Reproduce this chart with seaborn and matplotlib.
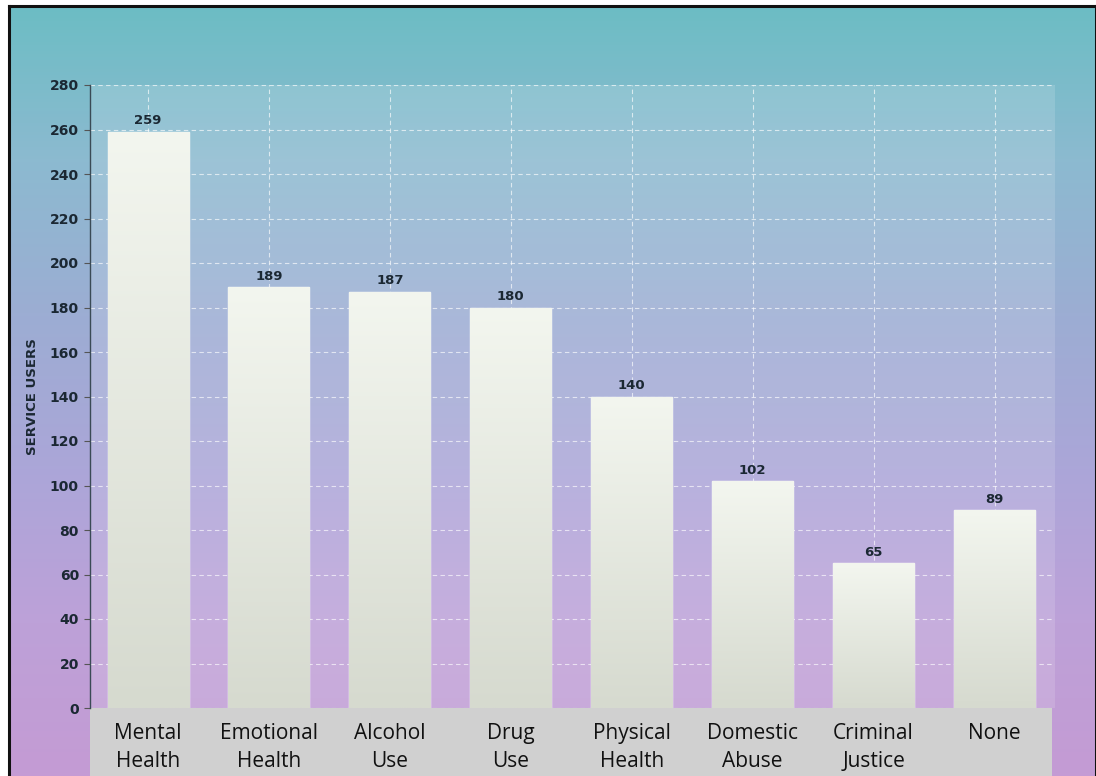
import numpy as np
import pandas as pd
import matplotlib
matplotlib.use("Agg")
import matplotlib.pyplot as plt
import seaborn as sns
from matplotlib.colors import LinearSegmentedColormap
from matplotlib.patches import Rectangle

categories = ["Mental\nHealth", "Emotional\nHealth", "Alcohol\nUse", "Drug\nUse",
              "Physical\nHealth", "Domestic\nAbuse", "Criminal\nJustice", "None"]
users = [259, 189, 187, 180, 140, 102, 65, 89]
y_ticks = list(range(0, 281, 20))

df = pd.DataFrame({"category": categories, "users": users})

sns.set_theme(style="white")
plt.rcParams["font.family"] = ["DejaVu Sans"]

W, H = 1096, 776
fig = plt.figure(figsize=(W / 100, H / 100), dpi=100, facecolor="white")

# outer panel with vertical gradient (teal -> lavender -> pink)
bg_cmap = LinearSegmentedColormap.from_list(
    "bg", ["#6cbdc4", "#8cbad0", "#9cadd3", "#aba6d8", "#bda1d8", "#c49bd4"])
bg = fig.add_axes([9 / W, 0, 1 - 9 / W, 770 / H], zorder=0)
bg.imshow(np.linspace(0, 1, 256).reshape(-1, 1), cmap=bg_cmap, aspect="auto",
          extent=[0, 1, 0, 1], origin="upper")
bg.set_xticks([])
bg.set_yticks([])
for side, sp in bg.spines.items():
    sp.set_color("#111111")
    sp.set_linewidth(2.2)
bg.spines["bottom"].set_visible(False)

# grey band behind the category labels
fig.patches.append(Rectangle((90 / W, 0), (1052 - 90) / W, (776 - 708) / H,
                             transform=fig.transFigure, facecolor="#d0d0d0",
                             edgecolor="none", zorder=1))

ax = fig.add_axes([90 / W, 1 - 708 / H, (1055 - 90) / W, (708 - 85) / H], zorder=2)
ax.patch.set_facecolor((1, 1, 1, 0.14))

sns.barplot(data=df, x="category", y="users", ax=ax, color="#eef1ea",
            width=0.67, saturation=1, zorder=3)

# vertical gradient inside each bar
bar_cmap = LinearSegmentedColormap.from_list("bar", ["#d6dacf", "#f3f6ef"])
grad = np.linspace(0, 1, 256).reshape(-1, 1)
for p in ax.patches:
    x0, w, h = p.get_x(), p.get_width(), p.get_height()
    im = ax.imshow(grad, cmap=bar_cmap, aspect="auto", origin="lower",
                   extent=[x0, x0 + w, 0, h], zorder=3.5)
    im.set_clip_path(p)

for i, v in enumerate(users):
    ax.text(i, v + 2, str(v), ha="center", va="bottom", fontsize=9.5,
            fontweight="bold", color="#1b2833", zorder=5)

ax.set_xlim(-0.48, 7.5)
ax.set_ylim(0, 280)
ax.set_yticks(y_ticks)
ax.set_yticklabels([str(t) for t in y_ticks], fontsize=10, fontweight="bold",
                   color="#1b2833")
ax.set_xticks(range(len(categories)))
ax.set_xticklabels(categories, family=["Open Sans", "DejaVu Sans"], fontsize=15,
                   color="#111111", linespacing=1.4)
ax.tick_params(axis="x", length=0, pad=11)
ax.tick_params(axis="y", length=4, width=0.8, color="#555555", pad=4, left=True)

ax.grid(True, axis="both", color="white", linestyle=(0, (4, 3)), linewidth=0.8,
        alpha=0.65, zorder=1)
ax.set_axisbelow(True)

for side in ["top", "right", "bottom"]:
    ax.spines[side].set_visible(False)
ax.spines["left"].set_color("#3a4a55")
ax.spines["left"].set_linewidth(1.0)

ax.set_xlabel("")
ax.set_ylabel("SERVICE USERS", fontsize=9.5, fontweight="bold", color="#1b2833",
              labelpad=8)

fig.savefig("out.png", dpi=100, facecolor=fig.get_facecolor())
